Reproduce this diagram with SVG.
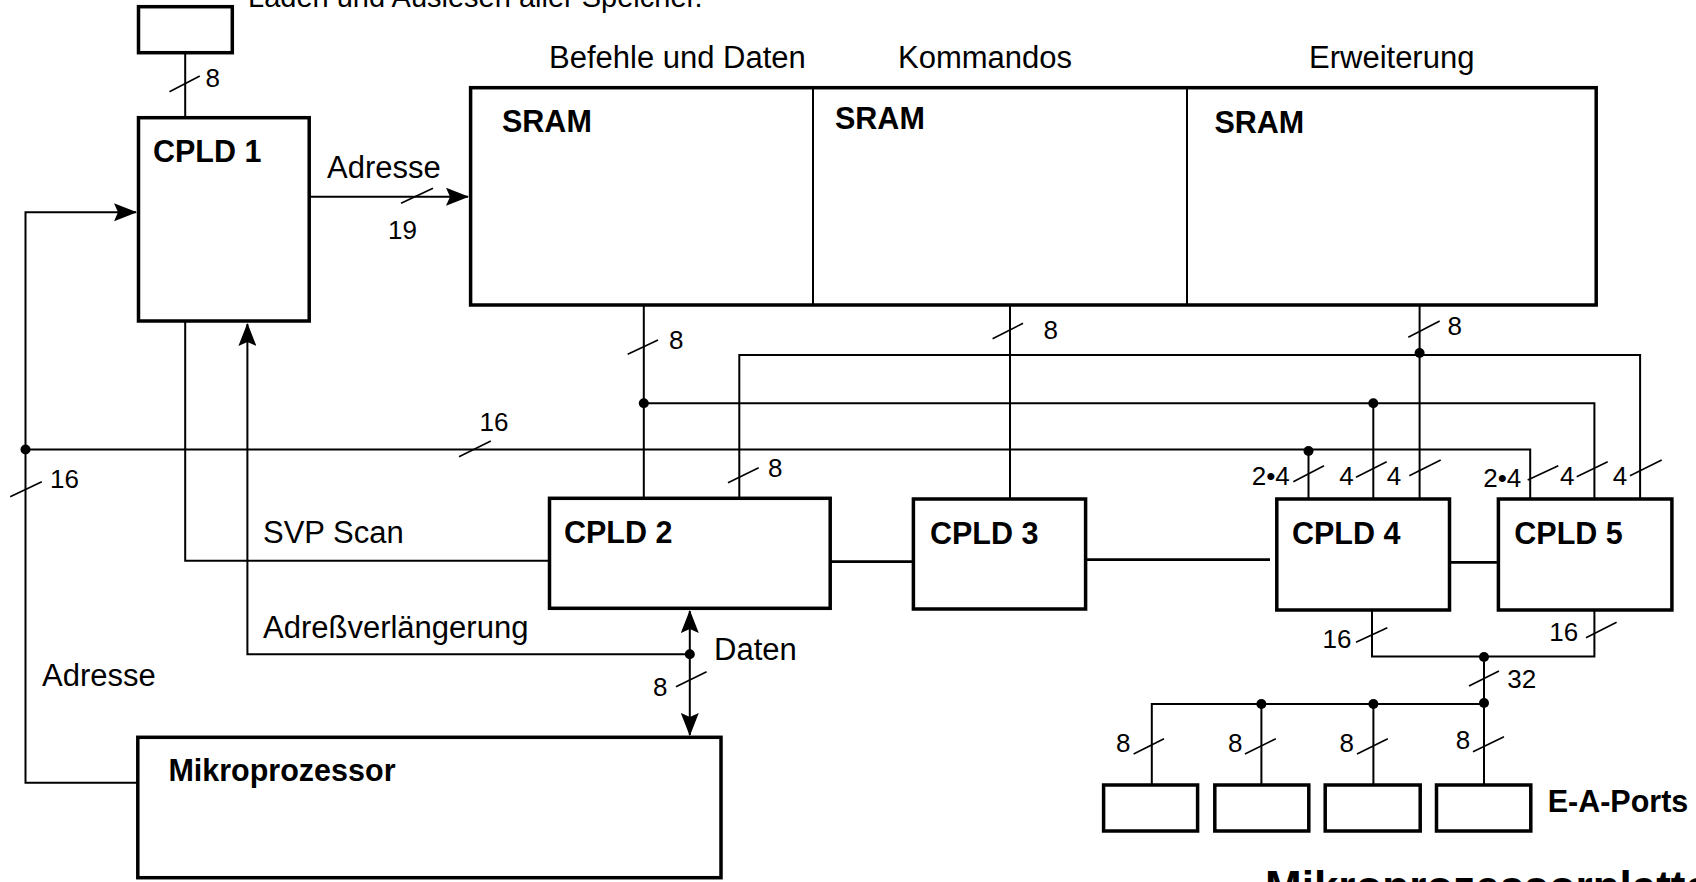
<svg xmlns="http://www.w3.org/2000/svg" width="1696" height="882" viewBox="0 0 1696 882">
<style>
.box{fill:#fff;stroke:#000;stroke-width:3.5}
.div{fill:none;stroke:#000;stroke-width:2}
.ln{fill:none;stroke:#000;stroke-width:2}
.thk{fill:none;stroke:#000;stroke-width:2.8}
.sl{fill:none;stroke:#000;stroke-width:1.6}
.dot{fill:#000}
text{font-family:"Liberation Sans",Arial,Helvetica,sans-serif;fill:#000}
.t{font-size:31px}
.n{font-size:26px}
.b{font-size:30.5px;font-weight:bold}
.big{font-size:44px;font-weight:bold}
</style>
<defs>
<marker id="arr" viewBox="0 0 23 18" refX="22" refY="9" markerWidth="23" markerHeight="18" markerUnits="userSpaceOnUse" orient="auto-start-reverse">
<path d="M0,0 L23,9 L0,18 L4,9 z" fill="#000"/>
</marker>
</defs>
<rect width="1696" height="882" fill="#fff"/>

<text class="t" x="248" y="7" style="font-size:29px">Laden und Auslesen aller Speicher.</text>
<text class="t" x="549" y="68">Befehle und Daten</text>
<text class="t" x="898" y="68">Kommandos</text>
<text class="t" x="1309" y="68">Erweiterung</text>

<g id="connectors">
<!-- top box to CPLD1 -->
<line class="ln" x1="185.2" y1="52.7" x2="185.2" y2="117.7"/>
<line class="sl" x1="169.5" y1="91.7" x2="199.8" y2="76"/>
<text class="n" x="205.5" y="87">8</text>
<!-- CPLD1 -> SRAM -->
<line class="ln" x1="310" y1="196.7" x2="468" y2="196.7" marker-end="url(#arr)"/>
<line class="sl" x1="401" y1="203.3" x2="433" y2="188.3"/>
<text class="t" x="327" y="178">Adresse</text>
<text class="n" x="388" y="239">19</text>
<!-- address loop from microprocessor -->
<polyline class="ln" points="137.8,782.7 25.5,782.7 25.5,212.3 136,212.3" marker-end="url(#arr)"/>
<circle class="dot" cx="25.5" cy="449.5" r="5"/>
<line class="sl" x1="10.2" y1="496.7" x2="41.8" y2="481.7"/>
<text class="n" x="50" y="488">16</text>
<text class="t" x="42" y="686">Adresse</text>
<!-- 16 bus to CPLD4/5 -->
<polyline class="ln" points="25.5,449.5 1530.2,449.5 1530.2,499"/>
<line class="ln" x1="1308.5" y1="449.5" x2="1308.5" y2="499"/>
<circle class="dot" cx="1308.5" cy="451" r="5"/>
<line class="sl" x1="459" y1="456.7" x2="490.8" y2="441"/>
<text class="n" x="479.6" y="430.7">16</text>
<!-- SVP Scan -->
<polyline class="ln" points="185.2,321 185.2,560.7 549.5,560.7"/>
<text class="t" x="263" y="543">SVP Scan</text>
<!-- Adressverlaengerung -->
<polyline class="ln" points="689.8,654.3 247.4,654.3 247.4,324" marker-end="url(#arr)"/>
<circle class="dot" cx="689.8" cy="654.3" r="5"/>
<text class="t" x="263" y="638">Adreßverlängerung</text>
<!-- Daten -->
<line class="ln" x1="689.8" y1="611" x2="689.8" y2="735" marker-start="url(#arr)" marker-end="url(#arr)"/>
<line class="sl" x1="676" y1="686.7" x2="706.6" y2="671.7"/>
<text class="n" x="653" y="696">8</text>
<text class="t" x="714" y="660">Daten</text>
<!-- SRAM1 bus -->
<line class="ln" x1="643.8" y1="305" x2="643.8" y2="498.3"/>
<circle class="dot" cx="643.8" cy="403.3" r="5"/>
<line class="sl" x1="627.7" y1="354.3" x2="658" y2="340"/>
<text class="n" x="669" y="349">8</text>
<polyline class="ln" points="643.8,403.3 1594.4,403.3 1594.4,499"/>
<line class="ln" x1="1373.3" y1="403.3" x2="1373.3" y2="499"/>
<circle class="dot" cx="1373.3" cy="403.3" r="5"/>
<!-- SRAM2 to CPLD3 -->
<line class="ln" x1="1010" y1="305" x2="1010" y2="499"/>
<line class="sl" x1="992.6" y1="338.8" x2="1023" y2="323.3"/>
<text class="n" x="1043.5" y="339">8</text>
<!-- SRAM3 bus -->
<line class="ln" x1="1419.6" y1="305" x2="1419.6" y2="499"/>
<line class="sl" x1="1408.3" y1="337.3" x2="1439.7" y2="321"/>
<text class="n" x="1447.5" y="334.5">8</text>
<circle class="dot" cx="1419.6" cy="353" r="5"/>
<polyline class="ln" points="739.3,498.3 739.3,355 1640.1,355 1640.1,499"/>
<line class="sl" x1="728" y1="482.7" x2="758.7" y2="467.7"/>
<text class="n" x="768" y="476.7">8</text>
<!-- CPLD4/5 top labels -->
<line class="sl" x1="1293.3" y1="481.7" x2="1324" y2="465.7"/>
<text class="n" x="1251.7" y="485">2•4</text>
<line class="sl" x1="1356" y1="477.3" x2="1386.7" y2="461.7"/>
<text class="n" x="1339.3" y="485">4</text>
<line class="sl" x1="1409.3" y1="475.7" x2="1440.7" y2="460"/>
<text class="n" x="1386.7" y="485">4</text>
<line class="sl" x1="1527.7" y1="480" x2="1558.3" y2="465.7"/>
<text class="n" x="1483.3" y="487">2•4</text>
<line class="sl" x1="1576.7" y1="476.7" x2="1607.7" y2="461.7"/>
<text class="n" x="1560" y="485">4</text>
<line class="sl" x1="1630" y1="475.7" x2="1661.7" y2="460"/>
<text class="n" x="1612.7" y="485">4</text>
<!-- CPLD chain -->
<line class="thk" x1="830.2" y1="561.7" x2="913.4" y2="561.7"/>
<line class="thk" x1="1085.6" y1="559.7" x2="1270" y2="559.7"/>
<line class="thk" x1="1449.5" y1="562.3" x2="1498.4" y2="562.3"/>
<!-- bottom 16/16 bus -->
<polyline class="ln" points="1372,610 1372,656.5 1594.4,656.5 1594.4,610"/>
<circle class="dot" cx="1484" cy="657" r="5"/>
<line class="sl" x1="1356" y1="642.3" x2="1387.3" y2="627.7"/>
<text class="n" x="1322.5" y="647.7">16</text>
<line class="sl" x1="1586" y1="637.7" x2="1616.6" y2="622.3"/>
<text class="n" x="1549.3" y="641">16</text>
<!-- 32 bus -->
<line class="ln" x1="1484" y1="657" x2="1484" y2="785"/>
<line class="sl" x1="1469" y1="686" x2="1499" y2="671"/>
<text class="n" x="1507.3" y="687.7">32</text>
<polyline class="ln" points="1151.8,785 1151.8,704 1484,704"/>
<line class="ln" x1="1261.4" y1="704" x2="1261.4" y2="785"/>
<line class="ln" x1="1373.4" y1="704" x2="1373.4" y2="785"/>
<circle class="dot" cx="1261.4" cy="704" r="5"/>
<circle class="dot" cx="1373.4" cy="704" r="5"/>
<circle class="dot" cx="1484" cy="703" r="5"/>
<line class="sl" x1="1133.6" y1="754" x2="1164" y2="738.7"/>
<text class="n" x="1116" y="751.7">8</text>
<line class="sl" x1="1244.9" y1="754" x2="1275.8" y2="738.7"/>
<text class="n" x="1228" y="751.7">8</text>
<line class="sl" x1="1357" y1="754" x2="1387.8" y2="738.7"/>
<text class="n" x="1339.6" y="751.7">8</text>
<line class="sl" x1="1473" y1="751.7" x2="1504" y2="736.7"/>
<text class="n" x="1455.8" y="749">8</text>
</g>

<g id="topbox"><rect class="box" x="138.5" y="6.7" width="93.8" height="46"/></g>
<g id="cpld1"><rect class="box" x="138.5" y="117.7" width="170.7" height="203.3"/><text class="b" x="153" y="162.3">CPLD 1</text></g>
<g id="sram">
<rect class="box" x="470.6" y="87.7" width="1125.6" height="217.3"/>
<line class="div" x1="813" y1="87.7" x2="813" y2="305"/>
<line class="div" x1="1187" y1="87.7" x2="1187" y2="305"/>
<text class="b" x="502" y="131.7">SRAM</text>
<text class="b" x="835" y="129.3">SRAM</text>
<text class="b" x="1214.4" y="132.7">SRAM</text>
</g>
<g id="cpld2"><rect class="box" x="549.5" y="498.3" width="280.7" height="110"/><text class="b" x="564" y="543.3">CPLD 2</text></g>
<g id="cpld3"><rect class="box" x="913.4" y="499" width="172.2" height="110"/><text class="b" x="930" y="544.3">CPLD 3</text></g>
<g id="cpld4"><rect class="box" x="1276.8" y="499" width="172.7" height="111"/><text class="b" x="1292" y="544.3">CPLD 4</text></g>
<g id="cpld5"><rect class="box" x="1498.4" y="499" width="173.5" height="111"/><text class="b" x="1514.3" y="544.3">CPLD 5</text></g>
<g id="mikro"><rect class="box" x="137.8" y="737.3" width="583.2" height="140.4"/><text class="b" x="168.4" y="781">Mikroprozessor</text></g>
<g id="ports">
<rect class="box" x="1103.6" y="785" width="94" height="46"/>
<rect class="box" x="1214.8" y="785" width="94" height="46"/>
<rect class="box" x="1325.2" y="785" width="95" height="46"/>
<rect class="box" x="1436.5" y="785" width="94.3" height="46"/>
<text class="b" x="1547.7" y="811.7">E-A-Ports</text>
</g>
<text class="big" x="1265" y="902">Mikroprozessorplatte</text>
</svg>
